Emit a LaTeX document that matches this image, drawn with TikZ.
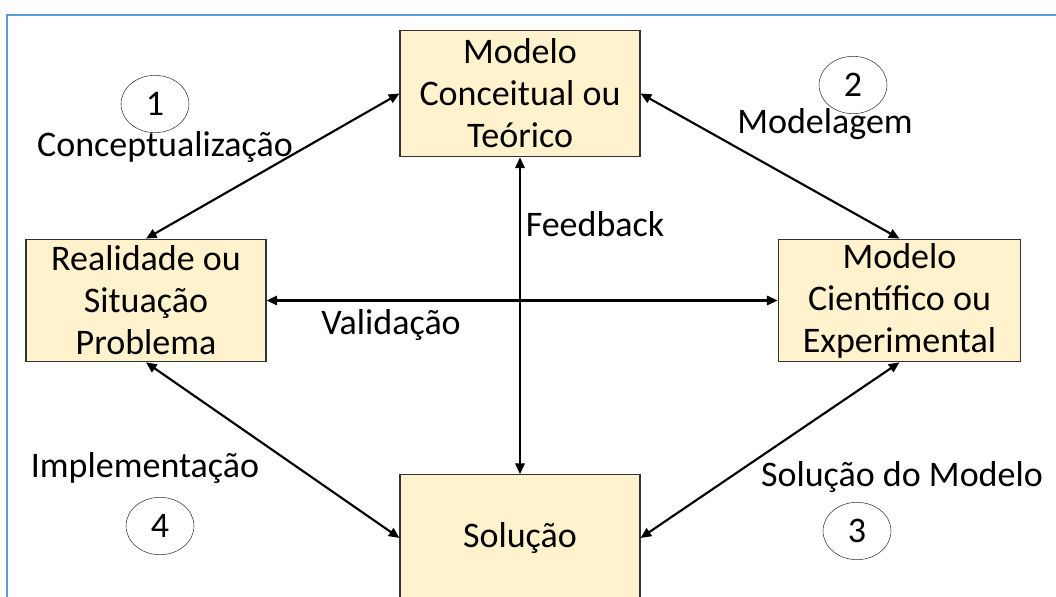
\documentclass[tikz,border=0pt]{standalone}
\usepackage{fontspec}
\setmainfont{Carlito}
\usepackage{tikz}
\usetikzlibrary{arrows.meta,shapes.geometric}
\definecolor{caixa}{RGB}{255,242,204}
\definecolor{moldura}{RGB}{91,155,213}
\definecolor{borda}{RGB}{50,50,50}

\begin{document}
\begin{tikzpicture}[x=0.75pt,y=-0.75pt,
  etapa/.style={draw=borda, thick, fill=caixa, align=center, font=\fontsize{27}{31.5}\selectfont, inner sep=0pt},
  rotulo/.style={font=\fontsize{27}{31.5}\selectfont},
  numero/.style={ellipse, draw=borda, thin, font=\fontsize{27}{31.5}\selectfont, minimum width=51pt, minimum height=43pt, inner sep=0pt},
  liga/.style={{Triangle[length=8pt,width=7pt]}-{Triangle[length=8pt,width=7pt]}, line width=1.6pt}]
\useasboundingbox (0,0) rectangle (1056,596);
\clip (0,0) rectangle (1056,596);
\draw [moldura, line width=1.5pt] (7,600) -- (7,15) -- (1060,15);

\node [etapa, minimum width=180pt, minimum height=95pt] (conceitual) at (520,93.5) {Modelo\\Conceitual ou\\Teórico};
\node [etapa, minimum width=180pt, minimum height=92pt] (realidade) at (146,300.5) {Realidade ou\\Situação\\Problema};
\node [etapa, minimum width=182pt, minimum height=92pt] (cientifico) at (899.5,300.5) {Modelo\\Científico ou\\Experimental};
\node [etapa, minimum width=180pt, minimum height=95pt] (solucao) at (520,538) {Solução};

\draw [liga] (realidade.north) -- (conceitual.west);
\draw [liga] (conceitual.east) -- (cientifico.north);
\draw [liga] (cientifico.south) -- (solucao.east);
\draw [liga] (realidade.south) -- (solucao.west);
\draw [liga] (realidade.east) -- (cientifico.west);
\draw [liga] (conceitual.south) -- (solucao.north);

\node [numero] (um) at (155,104) {1};
\node [rotulo] (conceptualizacao) at (165,147) {Conceptualização};
\node [numero] (dois) at (853,85) {2};
\node [rotulo] (modelagem) at (825,124) {Modelagem};
\node [numero] (tres) at (857,531) {3};
\node [rotulo] (solmodelo) at (902,477) {Solução do Modelo};
\node [numero] (quatro) at (160,526) {4};
\node [rotulo] (implementacao) at (145,468) {Implementação};
\node [rotulo] (feedback) at (595,224) {Feedback};
\node [rotulo] (validacao) at (391,325) {Validação};

\end{tikzpicture}
\end{document}
